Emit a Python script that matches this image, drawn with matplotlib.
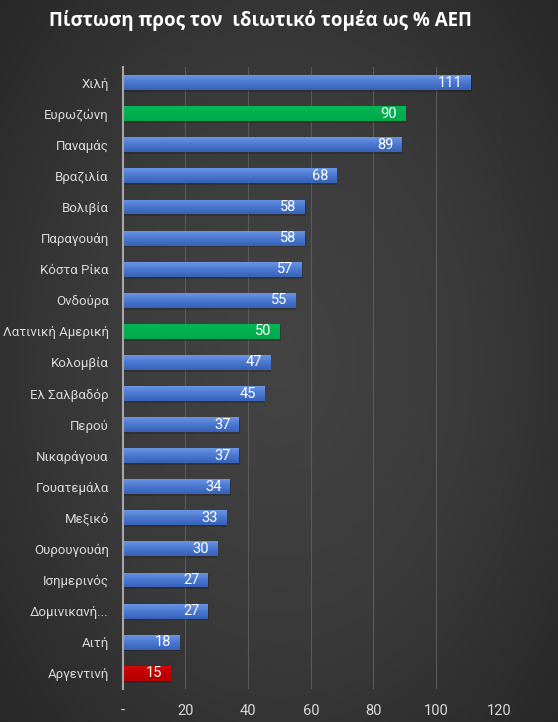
import matplotlib
matplotlib.use('Agg')
import matplotlib.pyplot as plt
import numpy as np
from matplotlib.colors import LinearSegmentedColormap

plt.rcParams['font.family'] = ['Roboto', 'Noto Sans', 'DejaVu Sans']

# δεδομένα
countries = ['Χιλή', 'Ευρωζώνη', 'Παναμάς', 'Βραζιλία', 'Βολιβία', 'Παραγουάη',
             'Κόστα Ρίκα', 'Ονδούρα', 'Λατινική Αμερική', 'Κολομβία', 'Ελ Σαλβαδόρ',
             'Περού', 'Νικαράγουα', 'Γουατεμάλα', 'Μεξικό', 'Ουρουγουάη',
             'Ισημερινός', 'Δομινικανή...', 'Αιτή', 'Αργεντινή']
values = [111, 90, 89, 68, 58, 58, 57, 55, 50, 47, 45, 37, 37, 34, 33, 30, 27, 27, 18, 15]
kinds = ['b', 'g', 'b', 'b', 'b', 'b', 'b', 'b', 'g', 'b', 'b', 'b', 'b', 'b', 'b',
         'b', 'b', 'b', 'b', 'r']
xticks = [0, 20, 40, 60, 80, 100, 120]
xticklabels = ['-', '20', '40', '60', '80', '100', '120']
title = 'Πίστωση προς τον  ιδιωτικό τομέα ως % ΑΕΠ'

grad_maps = {
    'b': LinearSegmentedColormap.from_list('b', ['#6a94e4', '#4a78d0', '#3862b8']),
    'g': LinearSegmentedColormap.from_list('g', ['#04b654', '#00b050', '#00a84c']),
    'r': LinearSegmentedColormap.from_list('r', ['#d00808', '#c00000', '#b00000']),
}

fig = plt.figure(figsize=(5.58, 7.22), dpi=100)

# φόντο με ακτινωτή διαβάθμιση
bg = fig.add_axes([0, 0, 1, 1])
yy, xx = np.mgrid[-1:1:300j, -1:1:300j]
r = np.sqrt((xx * 0.9) ** 2 + (yy * 0.8) ** 2)
bg_cmap = LinearSegmentedColormap.from_list('bg', ['#444444', '#3a3a3a', '#262626'])
bg.imshow(r, cmap=bg_cmap, vmin=0, vmax=1.25, aspect='auto', extent=[0, 1, 0, 1])
bg.axis('off')

ax = fig.add_axes([0.22, 0.046, 0.674, 0.861])
ax.set_facecolor('none')
n = len(values)
pos = np.arange(n)[::-1]
h = 0.48

grad = np.linspace(0, 1, 50).reshape(-1, 1)
for p, v, k in zip(pos, values, kinds):
    # σκιά
    ax.barh(p - 0.06, v + 0.4, height=h, left=0, color='black', alpha=0.18, zorder=2)
    bar = ax.barh(p, v, height=h, left=0, color=grad_maps[k](0.5), zorder=3)[0]
    im = ax.imshow(grad, cmap=grad_maps[k], aspect='auto',
                   extent=[0, v, p - h / 2, p + h / 2], zorder=3.5)
    im.set_clip_path(bar)
    ax.text(v - 2.5, p, str(v), ha='right', va='center', color='white',
            fontsize=10.5, zorder=5)

ax.set_xlim(0, 120)
ax.set_ylim(-0.5, n - 0.5)
ax.set_yticks(pos)
ax.set_yticklabels(countries, color='#d9d9d9', fontsize=9.5)
ax.set_xticks(xticks)
ax.set_xticklabels(xticklabels, color='#d9d9d9', fontsize=10.5)
ax.tick_params(length=0, pad=10)
ax.tick_params(axis='x', pad=11)
ax.grid(axis='x', color='#5a5a5a', linewidth=0.8, zorder=0)
ax.set_axisbelow(True)
for s in ['top', 'right', 'bottom']:
    ax.spines[s].set_visible(False)
ax.spines['left'].set_color('#a6a6a6')
ax.spines['left'].set_linewidth(1.5)
ax.spines['left'].set_zorder(6)

fig.text(0.467, 0.971, title, ha='center', va='center', color='white',
         fontsize=13.5, fontweight='bold', family=['Open Sans', 'DejaVu Sans'])

fig.savefig('out.png', dpi=100)
